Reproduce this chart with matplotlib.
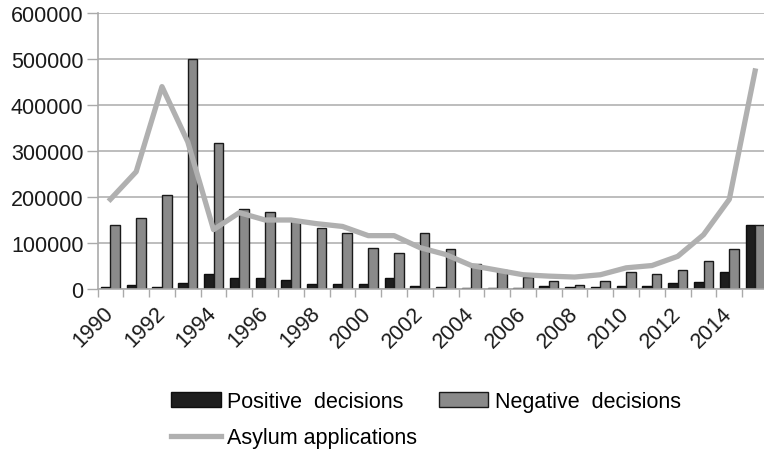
import matplotlib
matplotlib.use("Agg")
import matplotlib.pyplot as plt
import numpy as np

years = list(range(1990, 2016))
positive = [4000, 9000, 5000, 13000, 33000, 25000, 25000, 19000, 11000, 10000,
            10000, 25000, 6000, 5000, 3000, 2000, 2000, 6000, 5000, 5000,
            7000, 7000, 13000, 16000, 38000, 140000]
negative = [140000, 155000, 205000, 500000, 317000, 174000, 167000, 150000, 133000, 122000,
            89000, 78000, 122000, 86000, 55000, 42000, 27000, 18000, 9000, 18000,
            37000, 33000, 42000, 60000, 86000, 140000]
applications = [195000, 255000, 440000, 320000, 129000, 166000, 150000, 150000, 142000, 136000,
                116000, 116000, 90000, 75000, 51000, 41000, 31000, 28000, 26000, 31000,
                46000, 51000, 71000, 118000, 195000, 474000]
y_ticks = [0, 100000, 200000, 300000, 400000, 500000, 600000]

plt.rcParams["font.family"] = ["Liberation Sans", "DejaVu Sans"]

fig = plt.figure(figsize=(7.64, 4.52), dpi=100)
ax = fig.add_axes([97.5 / 764, 1 - 290 / 452, (768 - 97.5) / 764, (290 - 14) / 452])

x = np.arange(len(years))
w = 0.37
ax.bar(x - w / 2, positive, width=w, color="#1e1e1e", edgecolor="#0e0e0e",
       linewidth=1.0, label="Positive  decisions", zorder=2)
ax.bar(x + w / 2, negative, width=w, color="#8a8a8a", edgecolor="#1a1a1a",
       linewidth=1.0, label="Negative  decisions", zorder=2)
ax.plot(x, applications, color="#b0b0b0", linewidth=3.8, solid_joinstyle="round",
        label="Asylum applications", zorder=3)

ax.set_xlim(-0.5, len(years) - 0.5)
ax.set_ylim(0, 600000)
ax.set_yticks(y_ticks)
ax.set_yticklabels([str(v) for v in y_ticks], fontsize=15.5, color="#1a1a1a")
ax.yaxis.grid(True, color="#bdbdbd", linewidth=1.4, zorder=0)
ax.set_axisbelow(True)

# labels on every second year, tick marks on category boundaries
ax.set_xticks(x[::2])
ax.set_xticklabels([str(y) for y in years[::2]], rotation=45, ha="right", va="center",
                   rotation_mode="anchor", fontsize=15.5, color="#1a1a1a")
ax.tick_params(axis="x", which="major", length=0, pad=15)
ax.set_xticks(np.arange(len(years) + 1) - 0.5, minor=True)
ax.tick_params(axis="x", which="minor", length=6, color="#aaaaaa", width=1)
ax.tick_params(axis="y", length=8, color="#aaaaaa", width=1, pad=2)

for side in ["top", "right"]:
    ax.spines[side].set_visible(False)
for side in ["left", "bottom"]:
    ax.spines[side].set_color("#aaaaaa")
    ax.spines[side].set_linewidth(1.2)

handles, labels = ax.get_legend_handles_labels()
order = [1, 0, 2]  # positive, asylum in col 1; negative in col 2
fig.legend([handles[i] for i in order], [labels[i] for i in order],
           loc="upper left", bbox_to_anchor=(152 / 764, 1 - 373 / 452), ncol=2,
           frameon=False, fontsize=15.5, handlelength=2.3, handleheight=0.7,
           handletextpad=0.3, columnspacing=1.0, labelspacing=0.7)

fig.savefig("out.png", dpi=100)
